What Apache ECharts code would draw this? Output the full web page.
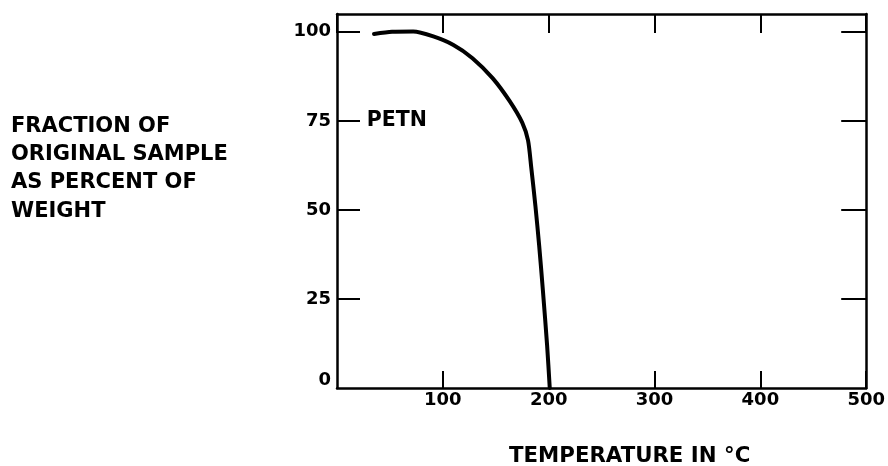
<!DOCTYPE html>
<html>
<head>
<meta charset="utf-8">
<script src="https://cdn.jsdelivr.net/npm/echarts@6/dist/echarts.min.js"></script>
<style>
  html, body { margin: 0; padding: 0; background: #fff; }
  #chart { width: 888px; height: 466px; }
</style>
</head>
<body>
<div id="chart"></div>
<script>
// PETN thermogravimetric curve: fraction of original sample weight vs temperature
const temperatures = [35, 52, 72, 91, 110, 128, 147, 163, 175, 180.5, 183.5, 187.5, 191, 194.5, 198.5, 201];
const weightPercent = [99.4, 100, 100.1, 98.7, 96.3, 92.6, 87, 80.6, 74.5, 69.5, 62, 51, 40, 27.5, 12, 0];
const yTickValues = [0, 25, 50, 75, 100];
const yInnerTicks = [25, 50, 75, 100];
const seriesName = 'PETN';
const labelPoint = [28, 75];

const FONT = 'DejaVu Sans';
const INK = '#000';

const chart = echarts.init(document.getElementById('chart'), null, { renderer: 'canvas' });

const tickLabel = { color: INK, fontFamily: FONT, fontWeight: 'bold', fontSize: 18 };

chart.setOption({
  animation: false,
  backgroundColor: '#fff',
  title: [
    {
      text: 'FRACTION OF\nORIGINAL SAMPLE\nAS PERCENT OF\nWEIGHT',
      left: 11, top: 112, padding: 0,
      textStyle: { color: INK, fontFamily: FONT, fontWeight: 'bold', fontSize: 21, lineHeight: 28.3 }
    },
    {
      text: 'TEMPERATURE IN °C',
      left: 509, top: 442, padding: 0,
      textStyle: { color: INK, fontFamily: FONT, fontWeight: 'bold', fontSize: 21.3, lineHeight: 28 }
    }
  ],
  grid: { left: 337, right: 20, top: 14, bottom: 78, containLabel: false },
  xAxis: [
    {
      type: 'value', position: 'bottom', min: 0, max: 500, interval: 100,
      splitLine: { show: false },
      axisLine: { onZero: false, lineStyle: { color: INK, width: 2.5 } },
      axisTick: { inside: true, length: 17, lineStyle: { color: INK, width: 2 } },
      axisLabel: Object.assign({ margin: 3, showMinLabel: false }, tickLabel)
    },
    {
      type: 'value', position: 'top', min: 0, max: 500, interval: 100,
      splitLine: { show: false },
      axisLine: { onZero: false, lineStyle: { color: INK, width: 2.5 } },
      axisTick: { inside: true, length: 19, lineStyle: { color: INK, width: 2 } },
      axisLabel: { show: false }
    }
  ],
  yAxis: [
    {
      type: 'value', position: 'left', min: 0, max: 105,
      splitLine: { show: false },
      axisLine: { onZero: false, lineStyle: { color: INK, width: 2.5 } },
      axisTick: { inside: true, length: 23, customValues: yInnerTicks, lineStyle: { color: INK, width: 2 } },
      axisLabel: Object.assign({
        margin: 6,
        customValues: yTickValues,
        formatter: v => (v === 0 ? '{zero|0}' : String(v)),
        rich: { zero: { color: INK, fontFamily: FONT, fontWeight: 'bold', fontSize: 18, padding: [0, 0, 16, 0] } }
      }, tickLabel)
    },
    {
      type: 'value', position: 'right', min: 0, max: 105,
      splitLine: { show: false },
      axisLine: { onZero: false, lineStyle: { color: INK, width: 2.5 } },
      axisTick: { inside: true, length: 25, customValues: yInnerTicks, lineStyle: { color: INK, width: 2 } },
      axisLabel: { show: false }
    }
  ],
  series: [
    {
      name: seriesName,
      type: 'line',
      xAxisIndex: 0, yAxisIndex: 0,
      data: temperatures.map((t, i) => [t, weightPercent[i]]),
      smooth: 0.25,
      showSymbol: false,
      lineStyle: { color: INK, width: 4, cap: 'round', join: 'round' },
      markPoint: {
        symbol: 'circle', symbolSize: 0,
        data: [{ coord: labelPoint }],
        label: {
          show: true, position: 'right', distance: 0, formatter: seriesName,
          color: INK, fontFamily: FONT, fontWeight: 'bold', fontSize: 20.5
        }
      }
    }
  ]
});
</script>
</body>
</html>
